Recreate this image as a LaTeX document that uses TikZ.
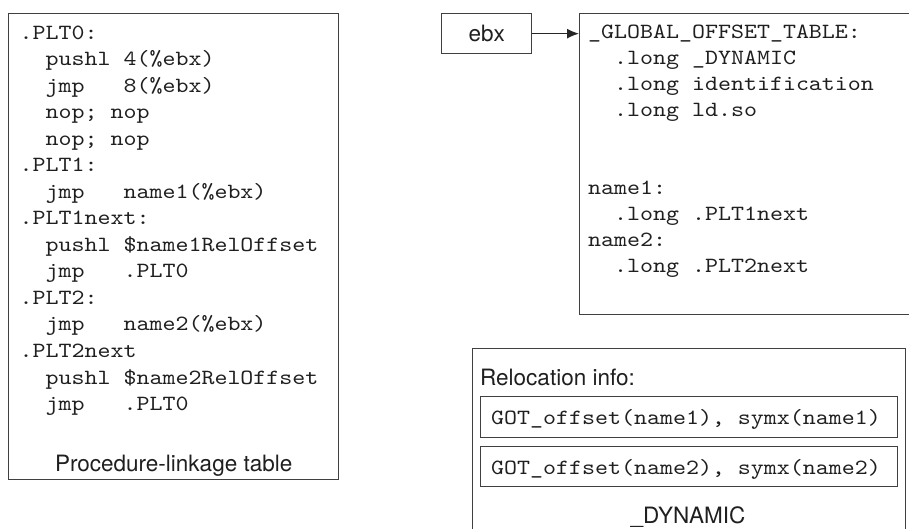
\documentclass[tikz,border=0pt]{standalone}
\usepackage{fontspec}
\setsansfont{TeX Gyre Heros}
\newfontfamily\codefont{lmmono10-regular.otf}[FakeStretch=1.14]
\usetikzlibrary{arrows.meta}
\newcommand\spx{\hphantom{0}}
\tikzset{
  box/.style={draw=black!75, line width=1.3bp, inner sep=0pt, anchor=north west},
  code/.style={inner sep=0pt, anchor=base west, text=black!88,
    font=\codefont\fontsize{21.7bp}{26bp}\selectfont},
  label/.style={inner sep=0pt, text=black!88,
    font=\sffamily\fontsize{22.5bp}{26bp}\selectfont},
  arr/.style={draw=black!85, line width=1.3bp, -{Latex[length=12bp,width=10bp]}}
}
\begin{document}
\begin{tikzpicture}[x=1bp,y=-1bp]
\useasboundingbox (0,0) rectangle (909,529);
% Procedure-linkage table
\node[box, minimum width=330bp, minimum height=466bp] (plt) at (8,13) {};
\foreach \txt [count=\i from 0] in {
  {.PLT0:},
  {\spx\spx pushl\spx 4(\%ebx)},
  {\spx\spx jmp\spx\spx\spx 8(\%ebx)},
  {\spx\spx nop;\spx nop},
  {\spx\spx nop;\spx nop},
  {.PLT1:},
  {\spx\spx jmp\spx\spx\spx name1(\%ebx)},
  {.PLT1next:},
  {\spx\spx pushl\spx\$name1RelOffset},
  {\spx\spx jmp\spx\spx\spx .PLT0},
  {.PLT2:},
  {\spx\spx jmp\spx\spx\spx name2(\%ebx)},
  {.PLT2next},
  {\spx\spx pushl\spx\$name2RelOffset},
  {\spx\spx jmp\spx\spx\spx .PLT0}}
  \node[code] (plt\i) at (19.5,{39.5+26.5*\i}) {\txt};
\node[label, anchor=base] (pltcap) at ([yshift=-8bp]plt.center |- 0,463) {Procedure-linkage table};
% ebx register
\node[box, minimum width=90bp, minimum height=40bp] (ebxbox) at (441,13) {};
\node[label] (ebx) at (ebxbox.center) {ebx};
% Global offset table
\node[box, minimum width=340bp, minimum height=301bp] (got) at (579,13) {};
\foreach \k/\txt in {
  0/{\_GLOBAL\_OFFSET\_TABLE:},
  1/{\spx\spx .long\spx\_DYNAMIC},
  2/{\spx\spx .long\spx identification},
  3/{\spx\spx .long\spx ld.so},
  6/{name1:},
  7/{\spx\spx .long\spx .PLT1next},
  8/{name2:},
  9/{\spx\spx .long\spx .PLT2next}}
  \node[code] (got\k) at (588,{38.5+26*\k}) {\txt};
\draw[arr] (ebxbox.east) -- (ebxbox.east -| got.west);
% _DYNAMIC
\node[box, minimum width=433bp, minimum height=200bp] (dyn) at (472,348) {};
\node[label, anchor=base west] (relinfo) at (480,385) {Relocation info:};
\node[box, minimum width=417bp, minimum height=41bp] (rel1) at (480,396) {};
\node[box, minimum width=417bp, minimum height=40bp] (rel2) at (480,446) {};
\node[code, anchor=base west] (rel1t) at (491,424) {GOT\_offset(name1),\spx symx(name1)};
\node[code, anchor=base west] (rel2t) at (491,474) {GOT\_offset(name2),\spx symx(name2)};
\node[label, anchor=base] (dynlbl) at (688,523) {\_DYNAMIC};
\end{tikzpicture}
\end{document}
